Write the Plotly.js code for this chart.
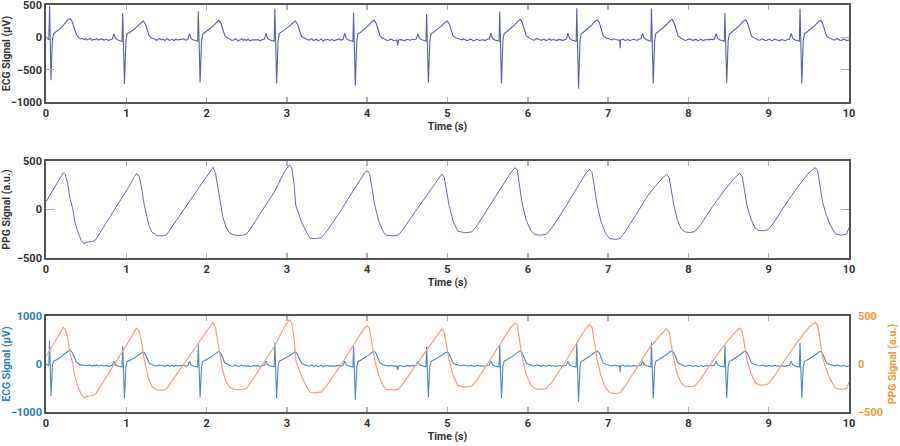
<!DOCTYPE html>
<html>
<head>
<meta charset="utf-8">
<script src="https://cdn.plot.ly/plotly-3.0.1.min.js"></script>
<style>
  html, body { margin: 0; padding: 0; background: #fff; }
  #grafico { width: 900px; height: 446px; }
</style>
</head>
<body>
<div id="grafico"></div>
<script>
const ecgT = [
  0, 0.02, 0.035, 0.045, 0.062, 0.08, 0.095, 0.12, 0.15, 0.19, 0.23, 0.27, 0.30, 0.325, 0.35, 0.38,
  0.41, 0.43, 0.45, 0.47, 0.49, 0.51, 0.53, 0.55, 0.57, 0.59, 0.61, 0.63, 0.65, 0.67, 0.69, 0.72,
  0.755, 0.775, 0.795, 0.825, 0.845, 0.865, 0.895, 0.930, 0.947,
  0.955, 0.977, 0.995, 1.010, 1.035, 1.065, 1.105, 1.145, 1.180, 1.210, 1.235, 1.260, 1.285, 1.315,
  1.355, 1.375, 1.395, 1.415, 1.435, 1.455, 1.475, 1.495, 1.515, 1.535, 1.555, 1.575, 1.595, 1.615, 1.635,
  1.697, 1.717, 1.737, 1.767, 1.787, 1.807, 1.837, 1.872, 1.889,
  1.897, 1.919, 1.937, 1.952, 1.977, 2.007, 2.047, 2.087, 2.122, 2.152, 2.177, 2.202, 2.227, 2.257,
  2.297, 2.317, 2.337, 2.357, 2.377, 2.397, 2.417, 2.437, 2.457, 2.477, 2.497, 2.517, 2.537, 2.557, 2.577,
  2.650, 2.670, 2.690, 2.720, 2.740, 2.760, 2.790, 2.825, 2.842,
  2.850, 2.872, 2.890, 2.905, 2.930, 2.960, 3.000, 3.040, 3.075, 3.105, 3.130, 3.155, 3.180, 3.210,
  3.250, 3.270, 3.290, 3.310, 3.330, 3.350, 3.370, 3.390, 3.410, 3.430, 3.450, 3.470, 3.490, 3.510, 3.530, 3.560, 3.590,
  3.630, 3.650, 3.670, 3.700, 3.720, 3.740, 3.770, 3.805, 3.822,
  3.830, 3.852, 3.870, 3.885, 3.910, 3.940, 3.980, 4.020, 4.055, 4.085, 4.110, 4.135, 4.160, 4.190,
  4.230, 4.250, 4.270, 4.290, 4.310, 4.330, 4.350, 4.370, 4.380, 4.390, 4.410, 4.430, 4.450, 4.470, 4.490, 4.510,
  4.540, 4.560, 4.580, 4.610, 4.630, 4.650, 4.680, 4.715, 4.732,
  4.740, 4.762, 4.780, 4.795, 4.820, 4.850, 4.890, 4.930, 4.965, 4.995, 5.020, 5.045, 5.070, 5.100,
  5.140, 5.160, 5.180, 5.200, 5.220, 5.240, 5.260, 5.280, 5.300, 5.320, 5.340, 5.360, 5.380, 5.400, 5.420,
  5.450, 5.470, 5.490, 5.520, 5.540, 5.560, 5.590, 5.625, 5.642,
  5.650, 5.672, 5.690, 5.705, 5.730, 5.760, 5.800, 5.840, 5.875, 5.905, 5.930, 5.955, 5.980, 6.010,
  6.050, 6.070, 6.090, 6.110, 6.130, 6.150, 6.170, 6.190, 6.210, 6.230, 6.250, 6.270, 6.290, 6.310, 6.330, 6.360, 6.385,
  6.410, 6.430, 6.450, 6.480, 6.500, 6.520, 6.550, 6.585, 6.602,
  6.610, 6.632, 6.650, 6.665, 6.690, 6.720, 6.760, 6.800, 6.835, 6.865, 6.890, 6.915, 6.940, 6.970,
  7.010, 7.030, 7.050, 7.070, 7.090, 7.110, 7.130, 7.145, 7.150, 7.155, 7.170, 7.190, 7.210, 7.230, 7.250, 7.270, 7.290, 7.315,
  7.340, 7.360, 7.380, 7.410, 7.430, 7.450, 7.480, 7.515, 7.532,
  7.540, 7.562, 7.580, 7.595, 7.620, 7.650, 7.690, 7.730, 7.765, 7.795, 7.820, 7.845, 7.870, 7.900,
  7.940, 7.960, 7.980, 8.000, 8.020, 8.040, 8.060, 8.080, 8.100, 8.120, 8.140, 8.160, 8.180, 8.200, 8.220, 8.240,
  8.255, 8.275, 8.295, 8.325, 8.345, 8.365, 8.395, 8.430, 8.447,
  8.455, 8.477, 8.495, 8.510, 8.535, 8.565, 8.605, 8.645, 8.680, 8.710, 8.735, 8.760, 8.785, 8.815,
  8.855, 8.875, 8.895, 8.915, 8.935, 8.955, 8.975, 8.995, 9.015, 9.035, 9.055, 9.075, 9.095, 9.115, 9.135, 9.160,
  9.190, 9.210, 9.230, 9.260, 9.280, 9.300, 9.330, 9.365, 9.382,
  9.390, 9.412, 9.430, 9.445, 9.470, 9.500, 9.540, 9.580, 9.615, 9.645, 9.670, 9.695, 9.720, 9.750,
  9.790, 9.810, 9.830, 9.850, 9.870, 9.890, 9.910, 9.930, 9.950, 9.970, 10.0
];
const ecgV = [
  10, -10, -40, 490, -665, -30, 60, 80, 110, 150, 215, 270, 292, 245, 150, 40,
  -5, -25, -15, -35, -22, -40, -28, -18, -45, -30, -38, -20, -42, -30, -25, -42,
  -30, -48, -38, -28, 55, -15, -40, -50, -65,
  375, -720, -60, 55, 70, 95, 130, 180, 225, 252, 215, 120, 20, -10,
  -25, -45, -30, -18, -40, -28, -50, -35, -22, -48, -38, -30, -52, -26, -40,
  -35, -25, -45, -30, 58, -20, -42, -55, -62,
  405, -700, -55, 50, 75, 100, 140, 185, 235, 263, 225, 125, 25, -5,
  -30, -48, -42, -25, -38, -55, -35, -20, -45, -32, -50, -28, -55, -40, -38,
  -40, -55, -35, -28, 60, -18, -40, -52, -60,
  445, -715, -50, 60, 80, 105, 135, 180, 225, 252, 210, 115, 20, -8,
  -28, -45, -35, -20, -50, -38, -30, -55, -45, -25, -60, -40, -40, -30, -48, -35, -50,
  -35, -25, -45, -30, 62, -20, -42, -55, -65,
  380, -745, -58, 55, 70, 100, 140, 190, 240, 263, 220, 120, 22, -10,
  -30, -48, -45, -28, -35, -52, -50, -40, -125, -45, -32, -40, -55, -55, -30, -35,
  -45, -30, -38, -25, 58, -15, -38, -50, -60,
  360, -700, -55, 50, 72, 100, 135, 180, 228, 252, 215, 118, 18, -8,
  -25, -42, -40, -22, -30, -50, -45, -28, -35, -55, -50, -30, -38, -48, -42,
  -40, -52, -30, -25, 65, -15, -40, -52, -62,
  400, -715, -52, 58, 78, 108, 150, 195, 248, 278, 235, 130, 25, -5,
  -28, -45, -38, -20, -25, -42, -48, -30, -35, -52, -30, -22, -45, -35, -38, -50, -32,
  -35, -50, -42, -28, 60, -18, -40, -55, -65,
  450, -790, -58, 55, 75, 105, 148, 195, 245, 273, 230, 125, 22, -5,
  -25, -42, -40, -22, -30, -48, -45, -40, -170, -42, -40, -28, -50, -38, -35, -52, -45, -30,
  -38, -48, -30, -22, 62, -15, -38, -50, -62,
  445, -715, -55, 60, 80, 110, 150, 198, 250, 278, 232, 128, 24, -6,
  -30, -48, -42, -25, -28, -45, -50, -32, -35, -55, -45, -28, -55, -38, -40, -30,
  -42, -28, -35, -25, 58, -18, -40, -52, -60,
  378, -705, -55, 55, 75, 105, 145, 192, 245, 273, 228, 125, 22, -5,
  -28, -45, -40, -22, -32, -50, -48, -30, -30, -52, -45, -25, -38, -50, -50, -35,
  -40, -52, -32, -25, 60, -16, -40, -52, -62,
  440, -715, -55, 55, 75, 105, 140, 188, 238, 263, 222, 120, 22, -5,
  -25, -42, -38, -20, -30, -48, -45, -28, -35, -50, -40
];

// PPG, tiempo (s) y amplitud (a.u.)
const ppgT = [
  0.00, 0.10, 0.18, 0.216, 0.24, 0.27, 0.30, 0.33, 0.36, 0.40, 0.44, 0.47, 0.52, 0.58, 0.62, 0.67, 0.75, 0.85, 0.95, 1.05,
  1.10, 1.13, 1.16, 1.19, 1.22, 1.25, 1.28, 1.32, 1.38, 1.45, 1.50, 1.55, 1.70, 1.85, 2.00, 2.06, 2.08, 2.11, 2.14, 2.17,
  2.20, 2.24, 2.29, 2.35, 2.45, 2.50, 2.56, 2.70, 2.85, 2.97, 3.03, 3.06, 3.09, 3.11, 3.18, 3.25, 3.29, 3.36, 3.43, 3.50,
  3.65, 3.80, 3.92, 3.97, 4.00, 4.03, 4.06, 4.09, 4.14, 4.20, 4.24, 4.32, 4.39, 4.45, 4.60, 4.75, 4.88, 4.93, 4.96, 4.99,
  5.02, 5.07, 5.13, 5.22, 5.30, 5.36, 5.50, 5.65, 5.78, 5.84, 5.87, 5.90, 5.93, 5.98, 6.04, 6.09, 6.16, 6.23, 6.30, 6.45,
  6.60, 6.72, 6.77, 6.80, 6.83, 6.86, 6.91, 6.97, 7.02, 7.09, 7.15, 7.22, 7.35, 7.50, 7.65, 7.73, 7.76, 7.79, 7.82, 7.86,
  7.91, 7.96, 8.02, 8.08, 8.15, 8.30, 8.45, 8.58, 8.64, 8.67, 8.70, 8.73, 8.78, 8.83, 8.87, 8.93, 8.99, 9.06, 9.20, 9.35,
  9.50, 9.58, 9.61, 9.64, 9.67, 9.71, 9.76, 9.83, 9.90, 9.97, 10.0
];
const ppgV = [
  80, 220, 330, 380, 360, 270, 110, 20, -130, -240, -320, -352, -335, -328, -310, -245, -140, 0, 130, 260,
  340, 373, 340, 230, 60, -60, -160, -235, -270, -272, -262, -200, -20, 160, 350, 420, 435, 380, 240, 60,
  -70, -180, -245, -265, -266, -250, -180, 0, 190, 390, 459, 430, 260, 46, -126, -242, -297, -300, -290, -220,
  -40, 160, 320, 380, 400, 370, 220, 60, -110, -230, -265, -272, -262, -200, -20, 150, 310, 366, 330, 190,
  40, -120, -225, -240, -232, -175, 0, 200, 370, 431, 400, 240, 60, -110, -220, -260, -265, -255, -190, 0,
  210, 370, 414, 380, 230, 60, -120, -250, -300, -308, -300, -220, -50, 150, 300, 366, 330, 190, 40, -100,
  -200, -232, -237, -228, -160, 30, 200, 330, 373, 340, 200, 40, -100, -190, -215, -220, -210, -140, 40, 220,
  380, 431, 400, 250, 80, -40, -150, -250, -265, -255, -188
];

const ejeTicks = [0, 1, 2, 3, 4, 5, 6, 7, 8, 9, 10];

const fuente = { family: "Roboto, Liberation Sans, sans-serif", size: 11, color: "#333", weight: 700 };
const fuenteTitulo = { family: "Roboto, Liberation Sans, sans-serif", size: 10.5, color: "#333", weight: 700 };
const azul = "#2b7fc4";
const naranja = "#f39a2e";

function ejeX(anchor) {
  return {
    anchor: anchor,
    range: [0, 10],
    tickvals: ejeTicks,
    ticks: "inside",
    ticklen: 5,
    tickwidth: 1.5,
    tickcolor: "#b0b0b0",
    showline: true,
    linecolor: "#555",
    linewidth: 1.8,
    mirror: "ticks",
    showgrid: false,
    zeroline: false,
    tickfont: fuente,
    ticklabeloverflow: "allow",
    title: { text: "Time (s)", font: fuenteTitulo, standoff: 3 }
  };
}

function ejeY(dominio, rango, vals, titulo) {
  return {
    domain: dominio,
    range: rango,
    tickvals: vals,
    ticks: "inside",
    ticklen: 8,
    tickwidth: 1.5,
    tickcolor: "#b0b0b0",
    showline: true,
    linecolor: "#555",
    linewidth: 1.8,
    mirror: "ticks",
    showgrid: false,
    zeroline: false,
    tickfont: fuente,
    ticklabeloverflow: "allow",
    title: { text: titulo, font: fuenteTitulo, standoff: 4 }
  };
}

const trazas = [
  { x: ecgT, y: ecgV, xaxis: "x", yaxis: "y", type: "scatter", mode: "lines",
    line: { color: "#5a60aa", width: 1.1 }, hoverinfo: "skip" },
  { x: ppgT, y: ppgV, xaxis: "x2", yaxis: "y2", type: "scatter", mode: "lines",
    line: { color: "#646cb6", width: 1 }, hoverinfo: "skip" },
  { x: ppgT, y: ppgV, xaxis: "x3", yaxis: "y4", type: "scatter", mode: "lines",
    line: { color: "#e9a583", width: 1.2 }, hoverinfo: "skip" },
  { x: ecgT, y: ecgV, xaxis: "x3", yaxis: "y3", type: "scatter", mode: "lines",
    line: { color: "#4f88c2", width: 1.1 }, hoverinfo: "skip" }
];

const yTop = ejeY([0.7617, 1], [-1000, 500], [-1000, -500, 0, 500], "ECG Signal (µV)");
yTop.anchor = "x";
const yMid = ejeY([0.3784, 0.6167], [-500, 500], [-500, 0, 500], "PPG Signal (a.u.)");
yMid.anchor = "x2";

const y3 = ejeY([0, 0.2359], [-1000, 1000], [-1000, 0, 1000], "ECG Signal (µV)");
y3.anchor = "x3";
y3.ticks = "";
y3.mirror = true;
y3.tickfont = Object.assign({}, fuente, { color: azul });
y3.title.font = Object.assign({}, fuenteTitulo, { color: azul });

const y4 = ejeY([0, 0.2359], [-500, 500], [-500, 0, 500], "PPG Signal (a.u.)");
y4.overlaying = "y3";
y4.side = "right";
y4.anchor = "x3";
y4.ticks = "";
y4.mirror = false;
y4.showline = false;
y4.ticklabelstandoff = 8;
y4.tickfont = Object.assign({}, fuente, { color: naranja });
y4.title.font = Object.assign({}, fuenteTitulo, { color: naranja });
y4.title.standoff = 6;

const layout = {
  width: 900,
  height: 446,
  margin: { l: 46, r: 51, t: 5, b: 34 },
  paper_bgcolor: "#fff",
  plot_bgcolor: "#fff",
  showlegend: false,
  xaxis: ejeX("y"),
  xaxis2: ejeX("y2"),
  xaxis3: ejeX("y3"),
  yaxis: yTop,
  yaxis2: yMid,
  yaxis3: y3,
  yaxis4: y4
};

Plotly.newPlot("grafico", trazas, layout, { staticPlot: true, displayModeBar: false });
</script>
</body>
</html>
